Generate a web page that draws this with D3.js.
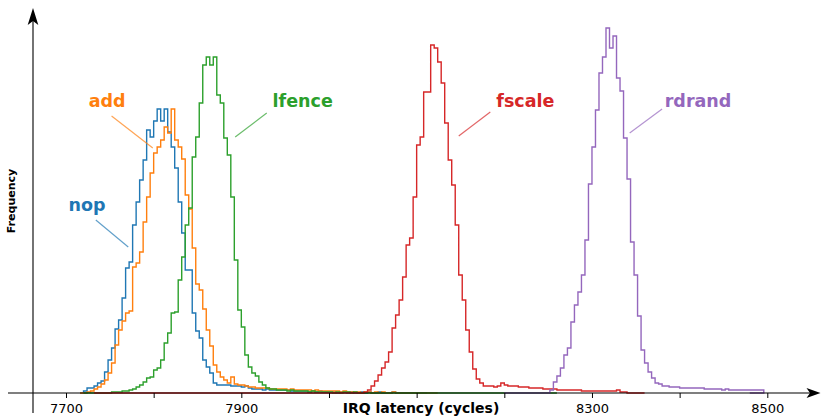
<!doctype html>
<html>
<head>
<meta charset="utf-8">
<title>IRQ latency histograms</title>
<script src="https://d3js.org/d3.v7.min.js"></script>
<style>
  body { margin: 0; background: #fff; }
  svg { display: block; font-family: "DejaVu Sans", sans-serif; }
</style>
</head>
<body>
<svg id="chart"></svg>
<script>
// histogram bins: 4 cycles wide, heights in arbitrary frequency units
var binWidth = 4;

var nopStart = 7720;
var nopExtent = [7716, 8112];
var nop = [2,5,5,7,10,12,21,33,45,64, 73,95,125,131,168,191,213,233,263,256,
  272,284,272,284,261,246,225,191,160,123, 123,80,62,55,33,26,20,10,8,8,
  8,8,7,7,7,6,7,5,4,4, 4,3,4,3,3,3,3,3,3,2, 2,2,2,2,1,2,1,2,1,1,
  1,1,0,1,1,0,1,0,0,1, 0,1,0,0,1,0,0,0,1,0];

var addStart = 7720;
var addExtent = [7716, 8124];
var add = [0,1,2,4,6,9,13,20,30,48, 63,72,80,82,126,130,141,171,196,220,
  240,246,253,266,260,284,253,246,234,198, 184,145,109,103,84,63,47,28,21,16,
  13,10,16,9,8,8,7,6,6,5, 5,5,5,4,4,4,4,4,3,4, 3,3,3,3,3,2,3,2,2,2,
  2,2,2,1,2,1,1,1,1,0, 1,1,0,1,0,1,0,0,1,0];

var lfenceStart = 7720;
var lfenceExtent = [7720, 8260];
var lfence = [0,0,0,0,0,0,0,0,1,1, 1,2,2,3,4,6,8,11,15,16,
  23,25,33,50,60,80,81,113,136,168, 185,236,256,290,328,336,328,336,298,290,
  255,238,196,133,83,66,38,26,20,17, 11,8,5,4,4,3,3,3,2,3,
  2,2,2,2,1,2,1,1,1,1, 1,0,1,0,1,1,0,1,0,0];

var fscaleStart = 8040;
var fscaleExtent = [7732, 8360];
var fscale = [1,3,7,12,18,25,31,41,65,78, 93,116,148,155,196,248,256,301,301,348,
  345,331,310,270,233,208,168,118,93,63, 41,24,14,10,7,7,7,6,7,10,
  8,7,7,7,6,6,6,5,5,5, 5,4,4,4,4,3,3,3,3,3, 3,3,2,2,2,2,2,2,2,2,
  2,2,3,1,1,0];

var rdrandStart = 8252;
var rdrandExtent = [8200, 8480];
var rdrand = [3,11,17,25,38,45,71,88,101,118, 153,209,246,283,320,336,365,345,357,315,
  302,255,214,151,118,77,43,30,21,15, 10,9,7,7,6,6,6,5,5,5,
  5,5,5,5,4,4,4,4,4,3, 4,3,3,3,3,3,3,3,3,3,3];

var seriesNames = ["nop", "add", "lfence", "fscale", "rdrand"];
var seriesColors = ["#1f77b4", "#ff7f0e", "#2ca02c", "#d62728", "#9467bd"];
var tickValues = [7700, 7800, 7900, 8000, 8100, 8200, 8300, 8400, 8500];
var tickLabels = [7700, 7900, 8300, 8500];

var series = [
  {start: nopStart, extent: nopExtent, values: nop},
  {start: addStart, extent: addExtent, values: add},
  {start: lfenceStart, extent: lfenceExtent, values: lfence},
  {start: fscaleStart, extent: fscaleExtent, values: fscale},
  {start: rdrandStart, extent: rdrandExtent, values: rdrand}
];
series.forEach(function(s, i) { s.name = seriesNames[i]; s.color = seriesColors[i]; });

// annotation anchors in data units: text centre, line start, line end
var notes = [
  {text: [7724, 182], from: [7734, 173], to: [7771, 146]},
  {text: [7747, 286], from: [7752, 277], to: [7799, 245]},
  {text: [7970, 286], from: [7929, 280], to: [7893, 256]},
  {text: [8224, 286], from: [8184, 281], to: [8148, 257]},
  {text: [8421, 286], from: [8380, 284], to: [8343, 260]}
];

var W = 821, H = 418;
var svg = d3.select("#chart").attr("width", W).attr("height", H);

var x = d3.scaleLinear().domain([7700, 8500]).range([66, 767.3]);
var y = d3.scaleLinear().domain([0, 385]).range([393, 8]);

var axisY = 393, axisX = 33;

// step outlines
var line = d3.line().x(function(p) { return x(p[0]); }).y(function(p) { return y(p[1]); });

series.forEach(function(s) {
  var pts = [[s.extent[0], 0], [s.start, 0]];
  s.values.forEach(function(v, i) {
    pts.push([s.start + i * binWidth, v], [s.start + (i + 1) * binWidth, v]);
  });
  var end = s.start + s.values.length * binWidth;
  pts.push([end, 0], [s.extent[1], 0]);
  svg.append("path")
    .attr("d", line(pts))
    .attr("fill", "none")
    .attr("stroke", s.color)
    .attr("stroke-width", 1.4)
    .attr("stroke-linejoin", "miter");
});

// axes lines with arrow heads, on top of the histogram baselines
svg.append("line").attr("x1", 8).attr("x2", 812).attr("y1", axisY).attr("y2", axisY)
  .attr("stroke", "#000").attr("stroke-width", 1.1);
svg.append("line").attr("x1", axisX).attr("x2", axisX).attr("y1", 413).attr("y2", 14)
  .attr("stroke", "#000").attr("stroke-width", 1.1);
svg.append("path")
  .attr("d", "M820.5," + axisY + " L806.5," + (axisY - 5) + " L810," + axisY + " L806.5," + (axisY + 5) + " Z")
  .attr("fill", "#000");
svg.append("path")
  .attr("d", "M" + axisX + ",8 L" + (axisX - 5.3) + ",25 L" + axisX + ",21 L" + (axisX + 5.3) + ",25 Z")
  .attr("fill", "#000");

var xAxis = d3.axisBottom(x)
  .tickValues(tickValues)
  .tickSize(5)
  .tickPadding(6)
  .tickFormat(function(d) { return tickLabels.indexOf(d) >= 0 ? d : ""; });

var gx = svg.append("g").attr("transform", "translate(0," + axisY + ")").call(xAxis);
gx.select(".domain").remove();
gx.selectAll(".tick line").attr("stroke", "#000");
gx.selectAll(".tick text").attr("fill", "#000")
  .attr("font-family", "DejaVu Sans").attr("font-size", 13);

svg.append("text")
  .attr("x", 421).attr("y", 413)
  .attr("text-anchor", "middle")
  .attr("font-size", 14).attr("font-weight", "bold")
  .text("IRQ latency (cycles)");

svg.append("text")
  .attr("transform", "translate(15,201) rotate(-90)")
  .attr("text-anchor", "middle")
  .attr("font-size", 11).attr("font-weight", "bold")
  .text("Frequency");

// labels with leader lines
notes.forEach(function(n, i) {
  var s = series[i];
  svg.append("line")
    .attr("x1", x(n.from[0])).attr("y1", y(n.from[1]))
    .attr("x2", x(n.to[0])).attr("y2", y(n.to[1]))
    .attr("stroke", s.color).attr("stroke-opacity", 0.7).attr("stroke-width", 1.2);
  svg.append("text")
    .attr("x", x(n.text[0])).attr("y", y(n.text[1]))
    .attr("text-anchor", "middle")
    .attr("font-size", 17.5).attr("font-weight", "bold")
    .attr("fill", s.color)
    .text(s.name);
});
</script>
</body>
</html>
